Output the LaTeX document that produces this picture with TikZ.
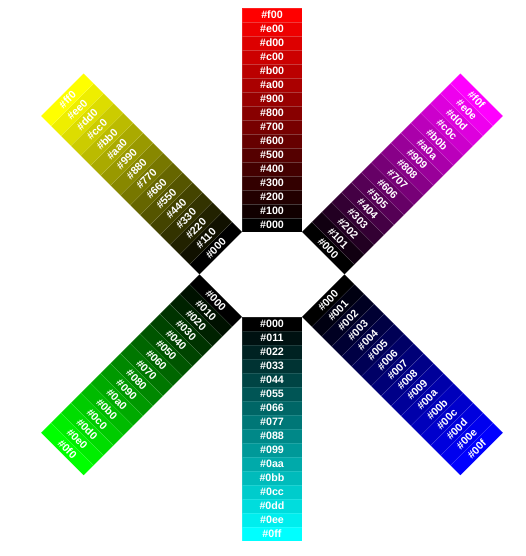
\documentclass[tikz,border=0pt]{standalone}
\usepackage{fontspec}
\setmainfont{Liberation Sans}
\newcommand\hexdig[1]{\ifcase#1 0\or 1\or 2\or 3\or 4\or 5\or 6\or 7\or 8\or 9\or a\or b\or c\or d\or e\or f\fi}
\tikzset{
  cellbox/.style={draw=white, draw opacity=0.12, line width=0.4pt},
  celltext/.style={text=white, font=\bfseries\fontsize{10.7}{12}\selectfont, inner sep=0pt, anchor=center},
}
% #1 arm name, #2 direction (1 up, -1 down), #3 RGB spec using \v, #4 label using \h
\newcommand\armbody[4]{%
  \foreach \i in {0,...,15}{%
    \pgfmathtruncatemacro\v{17*\i}%
    \edef\h{\hexdig{\i}}%
    \edef\x{\noexpand\definecolor{cc}{RGB}{#3}}\x
    \filldraw[cellbox, fill=cc] (0,{#2*14*\i}) rectangle (60,{#2*(14*\i+14)});
    \node[celltext] (#1-\i) at (30,{#2*(14*\i+7)}) {\##4};
  }%
}
\begin{document}
\begin{tikzpicture}[x=1pt,y=1pt]
\useasboundingbox (0,0) rectangle (526,556);
% top arm (red)
\begin{scope}[shift={(242,324)}]
  \armbody{red}{1}{\v,0,0}{\h00}
\end{scope}
% upper left (yellow)
\begin{scope}[shift={(199.574,281.574)}, rotate=45, transform shape]
  \armbody{yellow}{1}{\v,\v,0}{\h\h0}
\end{scope}
% upper right (magenta)
\begin{scope}[shift={(302,324)}, rotate=-45, transform shape]
  \armbody{magenta}{1}{\v,0,\v}{\h0\h}
\end{scope}
% bottom arm (cyan)
\begin{scope}[shift={(242,239.147)}]
  \armbody{cyan}{-1}{0,\v,\v}{0\h\h}
\end{scope}
% lower left (green)
\begin{scope}[shift={(199.574,281.574)}, rotate=-45, transform shape]
  \armbody{green}{-1}{0,\v,0}{0\h0}
\end{scope}
% lower right (blue)
\begin{scope}[shift={(302,239.147)}, rotate=45, transform shape]
  \armbody{blue}{-1}{0,0,\v}{00\h}
\end{scope}
\end{tikzpicture}
\end{document}
